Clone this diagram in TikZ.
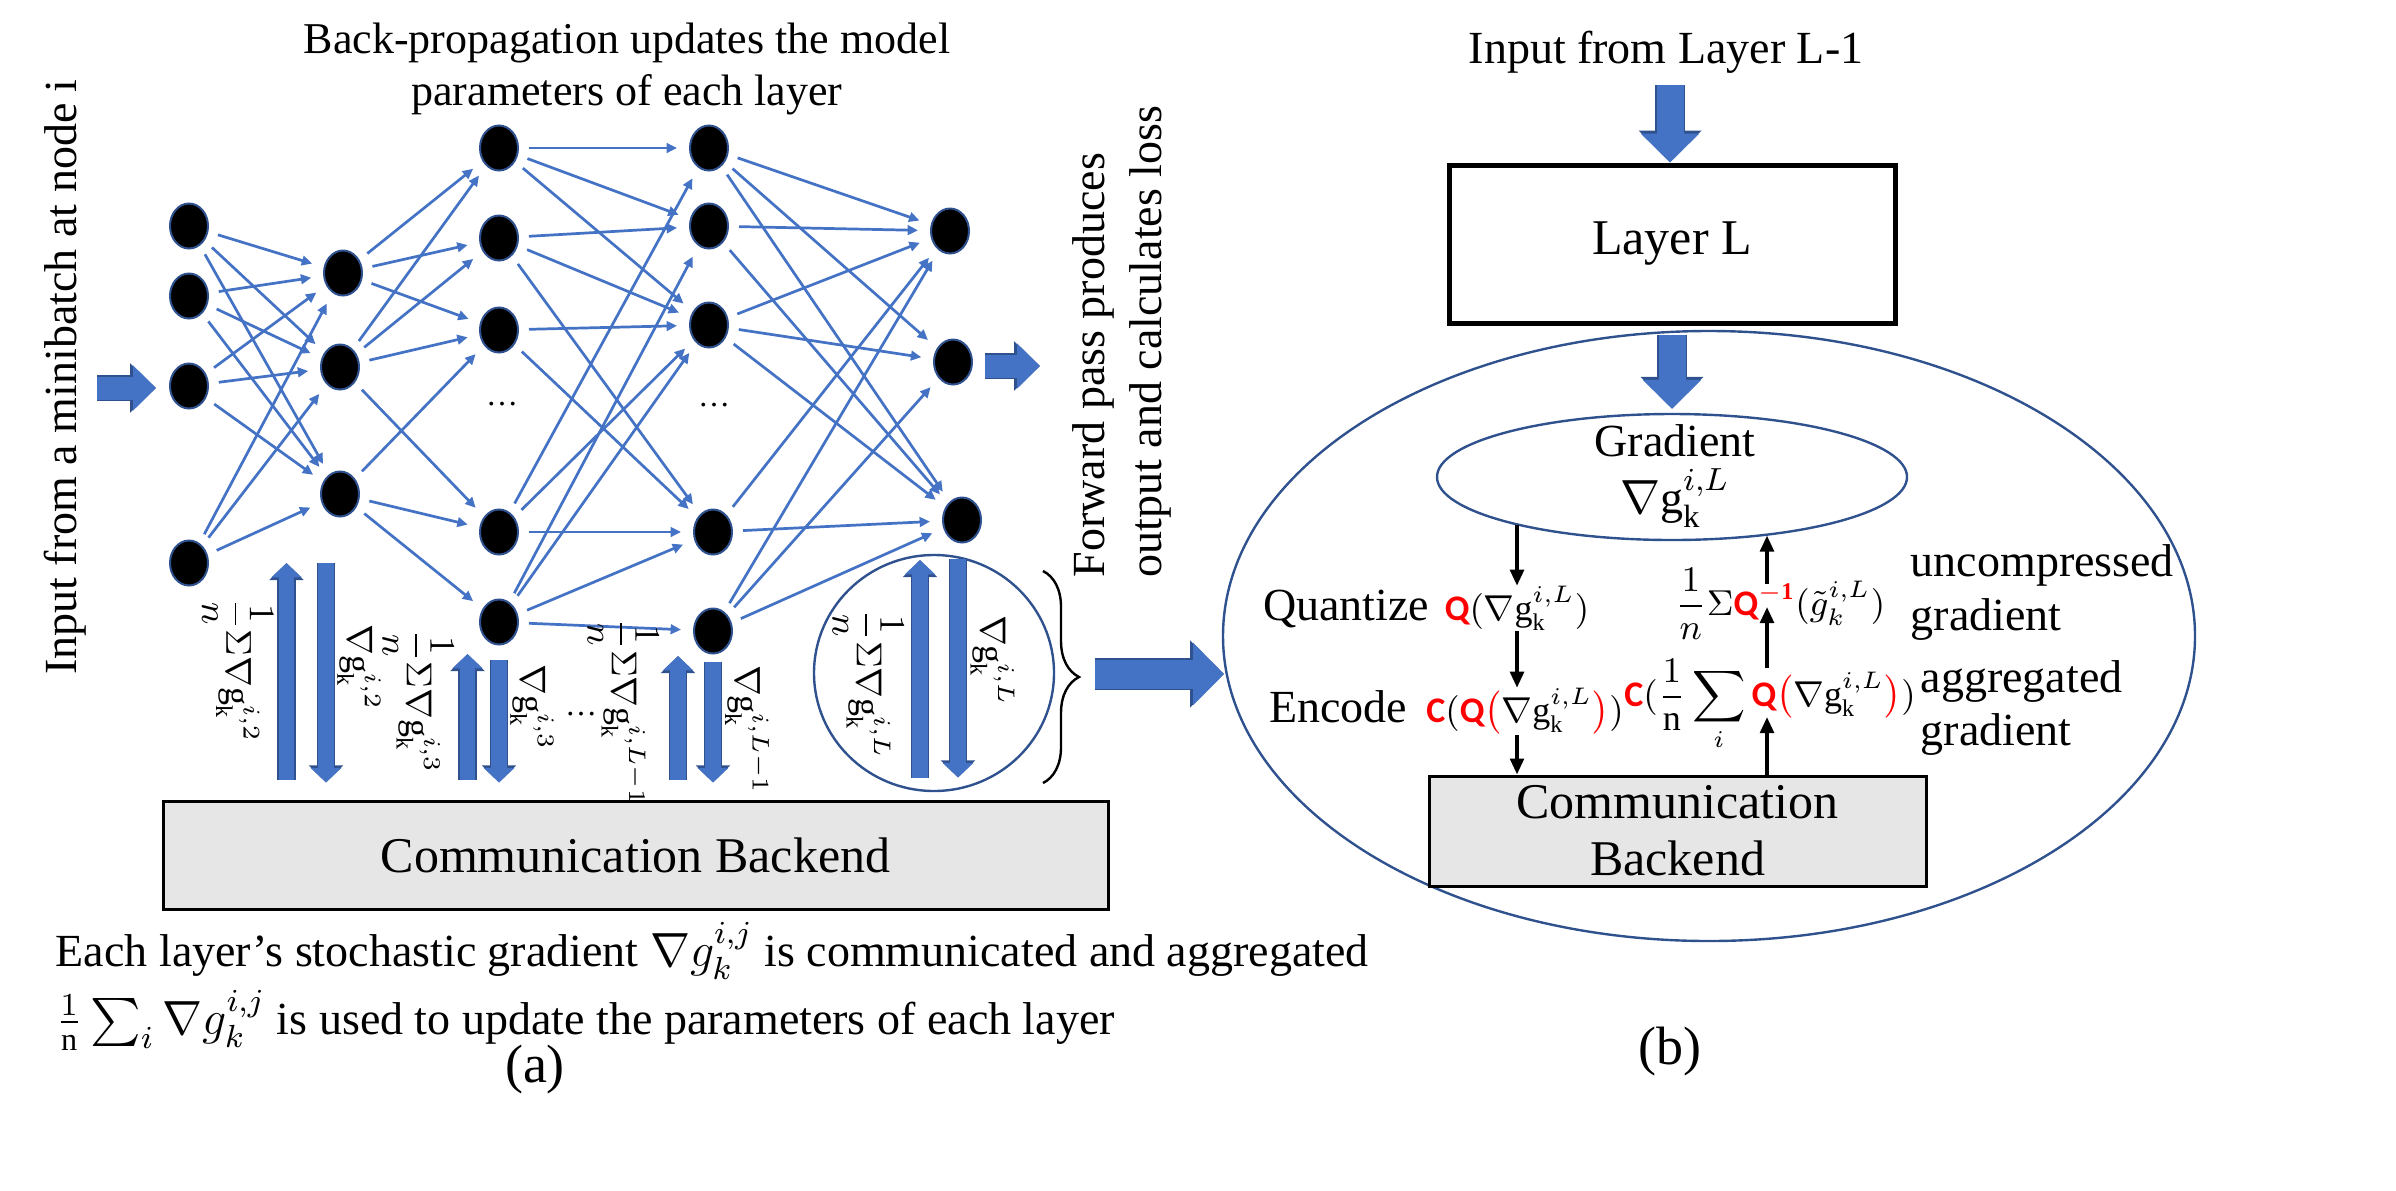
\documentclass[tikz,border=0pt]{standalone}
\usepackage{amsmath}
\usepackage{fontspec}
\setmainfont{Liberation Serif}
\newfontfamily\calibfont{Carlito}
\usetikzlibrary{shapes.geometric,arrows.meta,decorations.pathreplacing}
\definecolor{nnblue}{RGB}{68,114,196}
\definecolor{nnline}{RGB}{47,82,143}
\definecolor{backendgray}{RGB}{231,230,230}
\newcommand{\qop}[1]{\textcolor{red}{\text{\calibfont\bfseries #1}}}
\newcommand{\gk}[1]{\nabla\mathrm{g}_{\mathrm{k}}^{#1}}
\tikzset{
  neuron/.style={ellipse, fill=black, draw=nnline, line width=0.5pt,
    minimum width=9.5pt, minimum height=11.25pt, inner sep=0pt},
  synapse/.style={draw=nnblue, line width=0.68pt,
    -{Triangle[length=2.6pt,width=2.4pt]}, shorten <=2.5pt, shorten >=3pt},
  gradbar/.style={draw=nnblue, line width=3.9pt, -{Triangle[length=3.6pt,width=7.4pt]},
    preaction={draw=nnline, line width=4.6pt, -{Triangle[length=4.3pt,width=8.4pt]}}},
  flatarrow/.style={draw=nnblue, line width=5.75pt, -{Triangle[length=5.75pt,width=11pt]},
    preaction={draw=nnline, line width=6.45pt, -{Triangle[length=6.5pt,width=12pt]}}},
  bigarrow/.style={draw=nnblue, line width=7.25pt, -{Triangle[length=7.75pt,width=15.25pt]},
    preaction={draw=nnline, line width=7.95pt, -{Triangle[length=8.5pt,width=16.25pt]}}},
  layerarrow/.style={draw=nnblue, line width=6.75pt, -{Triangle[length=7.25pt,width=14.25pt]},
    preaction={draw=nnline, line width=7.45pt, -{Triangle[length=8pt,width=15.25pt]}}},
  flow/.style={draw=black, line width=0.9pt, -{Triangle[length=4pt,width=3.4pt]}},
  ring/.style={ellipse, draw=nnline, line width=0.6pt, inner sep=0pt},
  backend/.style={draw=black, line width=0.75pt, fill=backendgray, inner sep=0pt,
    font=\fontsize{12.5}{14.25}\selectfont},
  txt/.style={inner sep=0pt, font=\fontsize{11.5}{14.25}\selectfont},
  mtxt/.style={inner sep=0pt, font=\fontsize{9}{11}\selectfont},
  glab/.style={inner sep=0pt, rotate=-90, font=\fontsize{9}{11}\selectfont},
  dotlab/.style={inner sep=0pt, font=\fontsize{8}{10}\selectfont},
}
\begin{document}
\begin{tikzpicture}[x=0.25pt,y=0.25pt]
  \useasboundingbox (0,0) rectangle (2396,-1190);
  \draw
    (189,-226) node[neuron] (a1) {}
    (189,-296) node[neuron] (a2) {}
    (189,-386) node[neuron] (a3) {}
    (189,-563) node[neuron] (a4) {}
    (343,-273) node[neuron] (b1) {}
    (340,-367) node[neuron] (b2) {}
    (340,-494) node[neuron] (b3) {}
    (499,-148) node[neuron] (c1) {}
    (499,-238) node[neuron] (c2) {}
    (499,-330) node[neuron] (c3) {}
    (499,-532) node[neuron] (c4) {}
    (499,-622) node[neuron] (c5) {}
    (709,-148) node[neuron] (d1) {}
    (709,-226) node[neuron] (d2) {}
    (709,-325) node[neuron] (d3) {}
    (713,-532) node[neuron] (d4) {}
    (713,-631) node[neuron] (d5) {}
    (950,-231) node[neuron] (e1) {}
    (953,-362) node[neuron] (e2) {}
    (962,-520) node[neuron] (e3) {};
  \node[dotlab] (dots3) at (502,-404) {\dots};
  \node[dotlab] (dots4) at (714,-405) {\dots};
  \begin{scope}[synapse]
    \draw (a1) to (b1);
    \draw (a1) to (b2);
    \draw (a1) to (b3);
    \draw (a2) to (b1);
    \draw (a2) to (b2);
    \draw (a2) to (b3);
    \draw (a3) to (b1);
    \draw (a3) to (b2);
    \draw (a3) to (b3);
    \draw (a4) to (b1);
    \draw (a4) to (b2);
    \draw (a4) to (b3);
    \draw (b1) to (c1);
    \draw (b1) to (c2);
    \draw (b1) to (c3);
    \draw (b2) to (c1);
    \draw (b2) to (c2);
    \draw (b2) to (c3);
    \draw (b2) to (c4);
    \draw (b3) to (c3);
    \draw (b3) to (c4);
    \draw (b3) to (c5);
    \draw (c1) to (d1);
    \draw (c1) to (d2);
    \draw (c1) to (d3);
    \draw (c2) to (d2);
    \draw (c2) to (d3);
    \draw (c2) to (d4);
    \draw (c3) to (d3);
    \draw (c3) to (d4);
    \draw (c4) to (d1);
    \draw (c4) to (d3);
    \draw (c4) to (d4);
    \draw (c5) to (d2);
    \draw (c5) to (d3);
    \draw (c5) to (d4);
    \draw (c5) to (d5);
    \draw (d1) to (e1);
    \draw (d1) to (e2);
    \draw (d1) to (e3);
    \draw (d2) to (e1);
    \draw (d2) to (e3);
    \draw (d3) to (e1);
    \draw (d3) to (e2);
    \draw (d3) to (e3);
    \draw (d4) to (e1);
    \draw (d4) to (e3);
    \draw (d5) to (e1);
    \draw (d5) to (e2);
    \draw (d5) to (e3);
  \end{scope}
  \node[txt, align=center, font=\fontsize{11}{13}\selectfont] (bptxt) at (627,-69)
    {Back-propagation updates the model\\parameters of each layer};
  \node[txt, rotate=90] (intxt) at (65,-377) {Input from a minibatch at node i};
  \coordinate (inp) at (97,-388);
  \draw[flatarrow, shorten >=3.25pt] (inp) -- (inp -| a3.west);
  \coordinate (outp) at (1040,-366);
  \draw[flatarrow, shorten <=3pt] (outp -| e2.east) -- (outp);
  \node[txt, rotate=90, anchor=west, align=left] (fwtxt) at (1122,-578)
    {Forward pass produces\\output and calculates loss};
  \node[backend, minimum width=236.25pt, minimum height=27pt] (comma) at (635.5,-855)
    {Communication Backend};
  \node[ring, minimum width=60pt, minimum height=59pt] (zoomc) at (934,-673) {};
  \coordinate (up1) at (286.5,-563);
  \coordinate (dn1) at (326,-563);
  \coordinate (up2) at (467.5,-654);
  \coordinate (up3) at (678,-656);
  \coordinate (up4) at (920,-560);
  \coordinate (dn4) at (958,-559);
  \draw[gradbar, shorten <=5pt] (comma.north -| up1) -- (up1);
  \draw[gradbar, shorten >=4.25pt] (dn1) -- (dn1 |- comma.north);
  \draw[gradbar, shorten <=5pt] (comma.north -| up2) -- (up2);
  \draw[gradbar, shorten <=3.6pt, shorten >=4.25pt] (c5.south) -- (c5.south |- comma.north);
  \draw[gradbar, shorten <=5pt] (comma.north -| up3) -- (up3);
  \draw[gradbar, shorten <=1.9pt, shorten >=4.25pt] (d5.south) -- (d5.south |- comma.north);
  \draw[gradbar, shorten <=5.5pt] (comma.north -| up4) -- (up4);
  \draw[gradbar, shorten >=5.5pt] (dn4) -- (dn4 |- comma.north);
  \node[glab] (lab1) at (237.5,-670) {$\dfrac{1}{n}\Sigma\gk{i{,}2}$};
  \node[glab] (lab2) at (359,-667.5) {$\gk{i{,}2}$};
  \node[glab] (lab3) at (418,-701.5) {$\dfrac{1}{n}\Sigma\gk{i{,}3}$};
  \node[glab] (lab4) at (532,-707.5) {$\gk{i{,}3}$};
  \node[dotlab] (gdots) at (581,-714) {\dots};
  \node[glab] (lab5) at (623,-712) {$\dfrac{1}{n}\Sigma\gk{i{,}L-1}$};
  \node[glab] (lab6) at (747,-729.5) {$\gk{i{,}L-1}$};
  \node[glab] (lab7) at (868,-684) {$\dfrac{1}{n}\Sigma\gk{i{,}L}$};
  \node[glab] (lab8) at (992.5,-660.5) {$\gk{i{,}L}$};
  \coordinate (brtop) at (1043,-571);
  \coordinate (brbot) at (1043,-783);
  \draw[decorate, decoration={brace, amplitude=9pt}, line width=0.6pt] (brtop) -- (brbot);
  \coordinate (zoomtail) at (1095,-674);
  \coordinate (zoomtip) at (1224,-674);
  \draw[bigarrow] (zoomtail) -- (zoomtip);
  \node[txt, anchor=base west] (note1) at (55,-966)
    {Each layer’s stochastic gradient $\nabla g_k^{i,j}$ is communicated and aggregated};
  \node[txt, anchor=base west] (note2) at (55,-1034)
    {$\frac{1}{\mathrm{n}}\sum_i\nabla g_k^{i,j}$ is used to update the parameters of each layer};
  \node[inner sep=0pt, font=\fontsize{13.5}{16}\selectfont] (capa) at (535,-1069) {(a)};
  \node[txt] (inlab) at (1666,-52) {Input from Layer L-1};
  \node[draw, line width=1.25pt, inner sep=0pt, minimum width=111.5pt, minimum height=39.5pt,
    font=\fontsize{12.5}{15}\selectfont] (layerL) at (1672,-244) {Layer L};
  \coordinate (intip) at (1670,-85);
  \draw[layerarrow] (intip) -- (intip |- layerL.north);
  \node[ring, minimum width=243pt, minimum height=152.5pt] (bige) at (1709,-636) {};
  \node[ring, minimum width=117.5pt, minimum height=31.5pt] (gradb) at (1672,-477) {};
  \node[txt, align=center] (gradt) at (1675,-476) {Gradient\\$\gk{i{,}L}$};
  \draw[layerarrow, shorten <=2.25pt, shorten >=1pt] (layerL.south) -- (gradb.north);
  \node[txt, anchor=base] (quant) at (1346,-620) {Quantize};
  \node[mtxt, anchor=base] (qlab) at (1517,-620) {$\qop{Q}(\gk{i{,}L})$};
  \node[txt, anchor=base] (enc) at (1338,-722) {Encode};
  \node[mtxt, anchor=base] (clab) at (1525,-722)
    {$\qop{C}(\qop{Q}{\color{red}\bigl(}\gk{i{,}L}{\color{red}\bigr)})$};
  \node[mtxt, anchor=base] (invlab) at (1780,-615)
    {$\dfrac{1}{n}\Sigma\qop{Q}^{\color{red}\mathbf{-1}}(\tilde{g}_k^{i{,}L})$};
  \node[txt, anchor=west, align=left, font=\fontsize{11.5}{13.5}\selectfont] (unctxt) at (1910,-592)
    {uncompressed\\gradient};
  \node[mtxt, anchor=base] (agglab) at (1770,-706)
    {$\displaystyle\qop{C}(\frac{1}{\mathrm{n}}\sum_{i}\qop{Q}{\color{red}\bigl(}\gk{i{,}L}{\color{red}\bigr)})$};
  \node[txt, anchor=west, align=left, font=\fontsize{11.5}{13.25}\selectfont] (aggtxt) at (1920,-708)
    {aggregated\\gradient};
  \node[backend, align=center, minimum width=124.25pt, minimum height=27.5pt] (commb) at (1677.5,-831)
    {Communication\\Backend};
  \draw[flow] (gradb.197 -| qlab.north) -- (qlab.north);
  \draw[flow] (qlab.south) -- (qlab.south |- clab.north);
  \draw[flow] (clab.south -| qlab.south) -- (qlab.south |- commb.north);
  \coordinate (agg1) at (1767,-717);
  \coordinate (agg2) at (1767,-668);
  \coordinate (inv1) at (1767,-607);
  \coordinate (inv2) at (1767,-584);
  \draw[flow] (commb.north -| agg1) -- (agg1);
  \draw[flow] (agg2) -- (inv1);
  \draw[flow] (inv2) -- (gradb.329 -| inv2);
  \node[inner sep=0pt, font=\fontsize{13.5}{16}\selectfont] (capb) at (1670,-1051) {(b)};
\end{tikzpicture}
\end{document}
